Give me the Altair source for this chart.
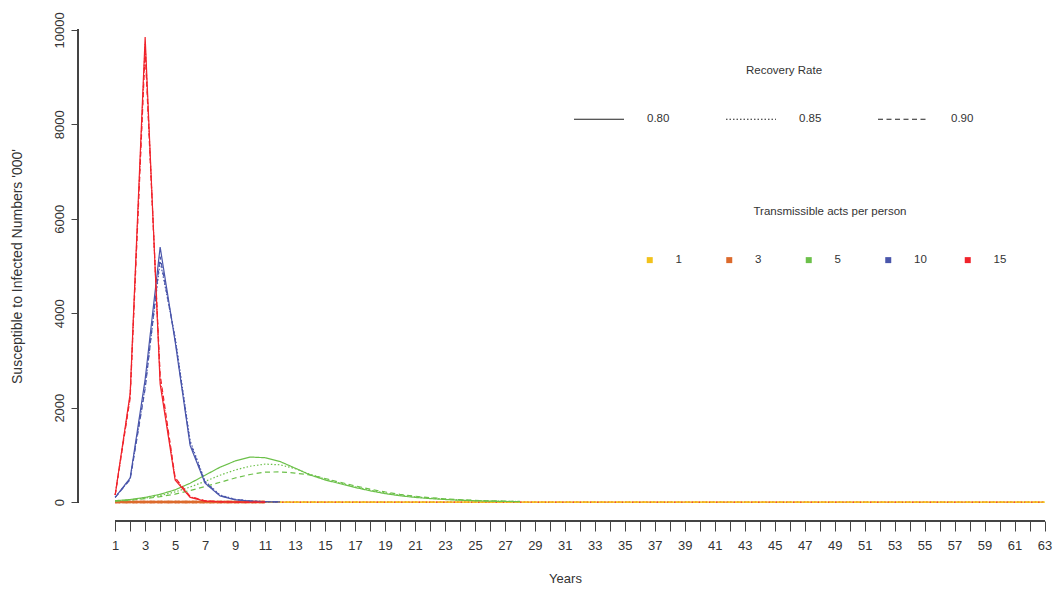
import altair as alt
import pandas as pd

# ---------------- data ----------------
years_all = list(range(1, 64))
acts_levels = ["1", "3", "5", "10", "15"]
rate_levels = ["0.80", "0.85", "0.90"]
colors = ["#f2c21b", "#dc6a2c", "#6cc04a", "#4a56ab", "#f0232b"]
dash_title = "Recovery Rate"
color_title = "Transmissible acts per person"

# 15 acts per person (red)
red_080 = [150, 2300, 9850, 2500, 470, 100, 20, 5, 1, 0, 0]
red_085 = [150, 2250, 9700, 2600, 500, 110, 25, 6, 1] + [0] * 54
red_090 = [150, 2200, 9550, 2700, 520, 120, 28, 7, 1, 0, 0]
# 10 acts per person (blue)
blue_080 = [100, 510, 2600, 5400, 3400, 1200, 400, 130, 50, 20, 8, 3]
blue_085 = [100, 490, 2450, 5100, 3500, 1300, 440, 150, 60, 25, 10, 4]
blue_090 = [100, 480, 2400, 5200, 3450, 1250, 420, 140, 55, 22, 9, 4]
# 5 acts per person (green)
green_080 = [30, 55, 100, 165, 260, 400, 570, 740, 870, 955, 940, 860, 720, 575,
             470, 390, 310, 240, 180, 135, 100, 75, 55, 40, 28, 20, 14, 10]
green_085 = [25, 45, 85, 140, 215, 320, 440, 570, 680, 760, 805, 790, 710, 590,
             490, 405, 325, 255, 195, 150, 112, 85, 63, 46, 33, 24, 17, 12]
green_090 = [20, 40, 72, 115, 170, 245, 330, 420, 510, 585, 635, 640, 615, 575,
             500, 420, 345, 275, 215, 165, 125, 95, 70, 52, 38, 28, 20, 14]
# 3 acts per person (orange)
orange_all = [0] * 11
# 1 act per person (yellow)
yellow_all = [0] * 63

series = {
    "1": [yellow_all, yellow_all, yellow_all],
    "3": [orange_all, orange_all, orange_all],
    "5": [green_080, green_085, green_090],
    "10": [blue_080, blue_085, blue_090],
    "15": [red_080, red_085, red_090],
}

rows = []
for acts, vals in series.items():
    for rate, vs in zip(rate_levels, vals):
        for i, v in enumerate(vs):
            rows.append({"year": years_all[i], "value": v, "acts": acts, "rate": rate})
df = pd.DataFrame(rows)

# drawing order of the curves (later = on top)
draw_order = [("1", "0.80"), ("1", "0.85"), ("15", "0.85"), ("1", "0.90"),
              ("3", "0.80"), ("3", "0.85"), ("3", "0.90"),
              ("5", "0.80"), ("5", "0.85"), ("5", "0.90"),
              ("10", "0.80"), ("10", "0.85"), ("10", "0.90"),
              ("15", "0.80"), ("15", "0.90")]

y_ticks = [0, 2000, 4000, 6000, 8000, 10000]

TXT = "#333333"
AX = "#444444"
FONT = "Liberation Sans"

x_scale = alt.Scale(domain=[-1.48, 63.5], nice=False, zero=False)
y_scale = alt.Scale(domain=[-400, 10400], nice=False, zero=False)

x_enc = alt.X(
    "year:Q", scale=x_scale,
    axis=alt.Axis(
        values=years_all, tickCount=200, format="d",
        labelExpr="datum.value % 2 == 1 ? datum.label : ''",
        tickSize=10, domain=False, grid=False, title="Years",
        labelFontSize=13, titleFontSize=13, titleFontWeight="normal",
        labelPadding=8, titlePadding=20, labelOverlap=False, labelFlush=False,
        tickColor=AX, labelColor=TXT, titleColor=TXT, labelFont=FONT, titleFont=FONT,
    ),
)
y_enc = alt.Y(
    "value:Q", scale=y_scale,
    axis=alt.Axis(
        values=y_ticks, tickCount=200, format="d", labelAngle=270, tickSize=7,
        domain=False, grid=False,
        title="Susceptible to Infected Numbers '000'",
        labelFontSize=13, titleFontSize=14, titleFontWeight="normal",
        labelPadding=5, titlePadding=29, labelOverlap=False, labelFlush=False,
        tickColor=AX, labelColor=TXT, titleColor=TXT, labelFont=FONT, titleFont=FONT,
    ),
)

color_enc = alt.Color(
    "acts:N",
    scale=alt.Scale(domain=acts_levels, range=colors),
    legend=alt.Legend(
        title=None, orient="none", legendX=566, legendY=243,
        direction="horizontal", columns=5,
        symbolType="square", symbolSize=9, symbolStrokeWidth=3,
        labelOffset=20, columnPadding=32.5, gridAlign="all", padding=0,
        labelFontSize=11.5, labelFont=FONT, labelColor=TXT,
    ),
)
dash_enc = alt.StrokeDash(
    "rate:N",
    scale=alt.Scale(domain=rate_levels, range=[[1, 0], [1.5, 2], [5, 3.5]]),
    legend=alt.Legend(
        title=None, orient="none", legendX=495, legendY=82,
        direction="horizontal", columns=3,
        symbolType="stroke", symbolSize=2500, symbolStrokeColor="#222222",
        symbolStrokeWidth=1.2, labelOffset=22, columnPadding=53,
        gridAlign="all", padding=0,
        labelFontSize=11.5, labelFont=FONT, labelColor=TXT,
    ),
)

base = alt.Chart(df)
layers = []
for acts, rate in draw_order:
    layers.append(
        base.transform_filter((alt.datum.acts == acts) & (alt.datum.rate == rate))
        .mark_line(strokeWidth=2.5 if acts == "3" else 1.2)
        .encode(x=x_enc, y=y_enc, color=color_enc, strokeDash=dash_enc,
                order="year:Q")
    )

# R-style axis lines (span the tick range only)
x_line = alt.Chart(df).mark_rule(color=AX, strokeWidth=1).encode(
    x=alt.datum(min(years_all)), x2=alt.datum(max(years_all)), y=alt.value(510))
y_line = alt.Chart(df).mark_rule(color=AX, strokeWidth=1).encode(
    y=alt.datum(min(y_ticks)), y2=alt.datum(max(y_ticks)), x=alt.value(0))

# legend titles
title_df = pd.DataFrame({"t": [dash_title]})
t1 = alt.Chart(title_df).mark_text(
    font=FONT, fontSize=11.5, color=TXT, align="center", baseline="middle"
).encode(text="t:N", x=alt.value(706), y=alt.value(60))
title_df2 = pd.DataFrame({"t": [color_title]})
t2 = alt.Chart(title_df2).mark_text(
    font=FONT, fontSize=11.5, color=TXT, align="center", baseline="middle"
).encode(text="t:N", x=alt.value(752), y=alt.value(201))

chart = alt.layer(x_line, y_line, *layers, t1, t2).properties(
    width=974, height=510,
    autosize=alt.AutoSizeParams(type="none"),
    padding={"left": 78, "top": 11, "right": 6, "bottom": 71},
    background="white",
).configure_view(stroke=None)

chart.save("out.html", embed_options={"renderer": "svg", "actions": False})
